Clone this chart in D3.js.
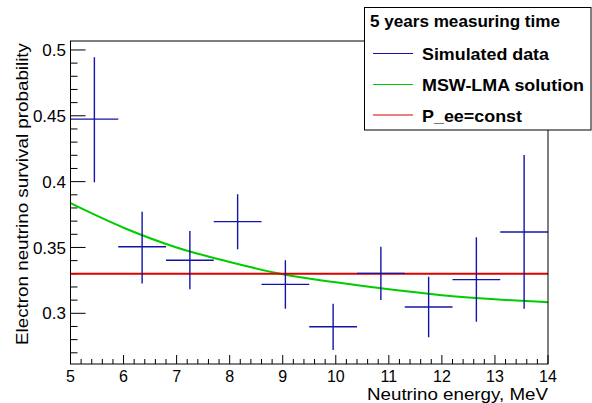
<!DOCTYPE html>
<html><head><meta charset="utf-8">
<script src="https://cdn.jsdelivr.net/npm/d3@7"></script>
<style>body{margin:0;background:#fff}svg{display:block}text{font-family:"Liberation Sans",Arial,sans-serif}</style>
</head><body><div id="chart"></div>
<script>
// Data
const energyCenters = [5.45, 6.35, 7.25, 8.15, 9.05, 9.95, 10.85, 11.75, 12.65, 13.55];
const energyHalfWidth = [0.45, 0.45, 0.45, 0.45, 0.45, 0.45, 0.45, 0.45, 0.45, 0.45];
const survival = [0.4475, 0.3505, 0.3403, 0.3696, 0.3220, 0.2898, 0.3303, 0.3048, 0.3256, 0.3618];
const errUp = [0.0470, 0.0266, 0.0222, 0.0208, 0.0183, 0.0175, 0.0203, 0.0230, 0.0321, 0.0584];
const errDown = [0.0480, 0.0278, 0.0221, 0.0210, 0.0185, 0.0177, 0.0202, 0.0230, 0.0320, 0.0583];
const mswEnergy = [5, 6, 7, 8, 9, 10, 11, 12, 13, 14];
const mswProb = [0.3836, 0.3650, 0.3500, 0.3390, 0.3297, 0.3235, 0.3182, 0.3138, 0.3107, 0.3084];
const constEnergy = [5, 14];
const constProb = [0.33, 0.33];
const xTicks = [5, 6, 7, 8, 9, 10, 11, 12, 13, 14];
const yTicks = [0.3, 0.35, 0.4, 0.45, 0.5];
const legendTitle = "5 years measuring time";
const legendLabels = ["Simulated data", "MSW-LMA solution", "P_ee=const"];
const legendColors = ["#1414a8", "#00cc00", "#dd0000"];

const W = 592, H = 403;
const L = 70.5, R = 548, T = 41, B = 364;
const svg = d3.select("#chart").append("svg").attr("width", W).attr("height", H);

const x = d3.scaleLinear().domain([5, 14]).range([L, R]);
const y = d3.scaleLinear().domain([0.2615, 0.5068]).range([B, T]);

const xMinor = d3.range(50, 141, 2).map(v => v / 10).filter(v => !xTicks.includes(v));
const yMinor = d3.range(27, 51, 1).map(v => v / 100).filter(v => !yTicks.some(t => Math.abs(t - v) < 1e-9));

const g = svg.append("g");
g.selectAll(".xmaj").data(xTicks).join("line")
  .attr("x1", d => x(d)).attr("x2", d => x(d)).attr("y1", B).attr("y2", B - 9)
  .attr("stroke", "#000").attr("stroke-width", 1);
g.selectAll(".xmin").data(xMinor).join("line")
  .attr("x1", d => x(d)).attr("x2", d => x(d)).attr("y1", B).attr("y2", B - 5)
  .attr("stroke", "#000").attr("stroke-width", 1);
g.selectAll(".xl").data(xTicks).join("text")
  .attr("x", d => x(d)).attr("y", 381.5).attr("text-anchor", "middle")
  .attr("font-size", 16).text(d => d);
g.selectAll(".ymaj").data(yTicks).join("line")
  .attr("x1", L).attr("x2", L + 15).attr("y1", d => y(d)).attr("y2", d => y(d))
  .attr("stroke", "#000").attr("stroke-width", 1);
g.selectAll(".ymin").data(yMinor).join("line")
  .attr("x1", L).attr("x2", L + 7).attr("y1", d => y(d)).attr("y2", d => y(d))
  .attr("stroke", "#000").attr("stroke-width", 1);
g.selectAll(".yl").data(yTicks).join("text")
  .attr("x", 66).attr("y", d => y(d)).attr("dy", "0.36em").attr("text-anchor", "end")
  .attr("font-size", 17).text(d => d3.format("")(d));

svg.append("text").attr("x", 548).attr("y", 399.5).attr("text-anchor", "end")
  .attr("font-size", 16).attr("textLength", 181).attr("lengthAdjust", "spacingAndGlyphs")
  .text("Neutrino energy, MeV");
svg.append("text").attr("transform", "translate(28,43) rotate(-90)").attr("text-anchor", "end")
  .attr("font-size", 17).attr("textLength", 302).attr("lengthAdjust", "spacingAndGlyphs")
  .text("Electron neutrino survival probability");

const line = d3.line().x(d => x(d[0])).y(d => y(d[1])).curve(d3.curveMonotoneX);
svg.append("path").datum(mswEnergy.map((e, i) => [e, mswProb[i]]))
  .attr("d", line).attr("fill", "none").attr("stroke", legendColors[1]).attr("stroke-width", 2);
svg.append("path").datum(constEnergy.map((e, i) => [e, constProb[i]]))
  .attr("d", d3.line().x(d => x(d[0])).y(d => y(d[1]))).attr("fill", "none")
  .attr("stroke", legendColors[2]).attr("stroke-width", 2);

const pts = svg.append("g").attr("stroke", legendColors[0]).attr("stroke-width", 1.4);
energyCenters.forEach((c, i) => {
  pts.append("line").attr("x1", x(c - energyHalfWidth[i])).attr("x2", x(c + energyHalfWidth[i]))
    .attr("y1", y(survival[i])).attr("y2", y(survival[i]));
  pts.append("line").attr("x1", x(c)).attr("x2", x(c))
    .attr("y1", y(survival[i] - errDown[i])).attr("y2", y(survival[i] + errUp[i]));
});

svg.append("rect").attr("x", L).attr("y", T).attr("width", R - L).attr("height", B - T)
  .attr("fill", "none").attr("stroke", "#000").attr("stroke-width", 1);

const lg = svg.append("g");
lg.append("rect").attr("x", 364.5).attr("y", 7.5).attr("width", 226.5).attr("height", 122.5)
  .attr("fill", "#fff").attr("stroke", "#000").attr("stroke-width", 1);
lg.append("text").attr("x", 370).attr("y", 27).attr("font-size", 17).attr("font-weight", "bold")
  .attr("textLength", 190).attr("lengthAdjust", "spacingAndGlyphs").text(legendTitle);
const rowY = [53.5, 84.5, 115];
const labelLen = [127, 162, 100];
legendLabels.forEach((lab, i) => {
  lg.append("line").attr("x1", 373).attr("x2", 413).attr("y1", rowY[i]).attr("y2", rowY[i])
    .attr("stroke", legendColors[i]).attr("stroke-width", 1);
  lg.append("text").attr("x", 422).attr("y", rowY[i] + 6.5).attr("font-size", 17)
    .attr("font-weight", "bold").attr("textLength", labelLen[i]).attr("lengthAdjust", "spacingAndGlyphs").text(lab);
});
</script></body></html>
